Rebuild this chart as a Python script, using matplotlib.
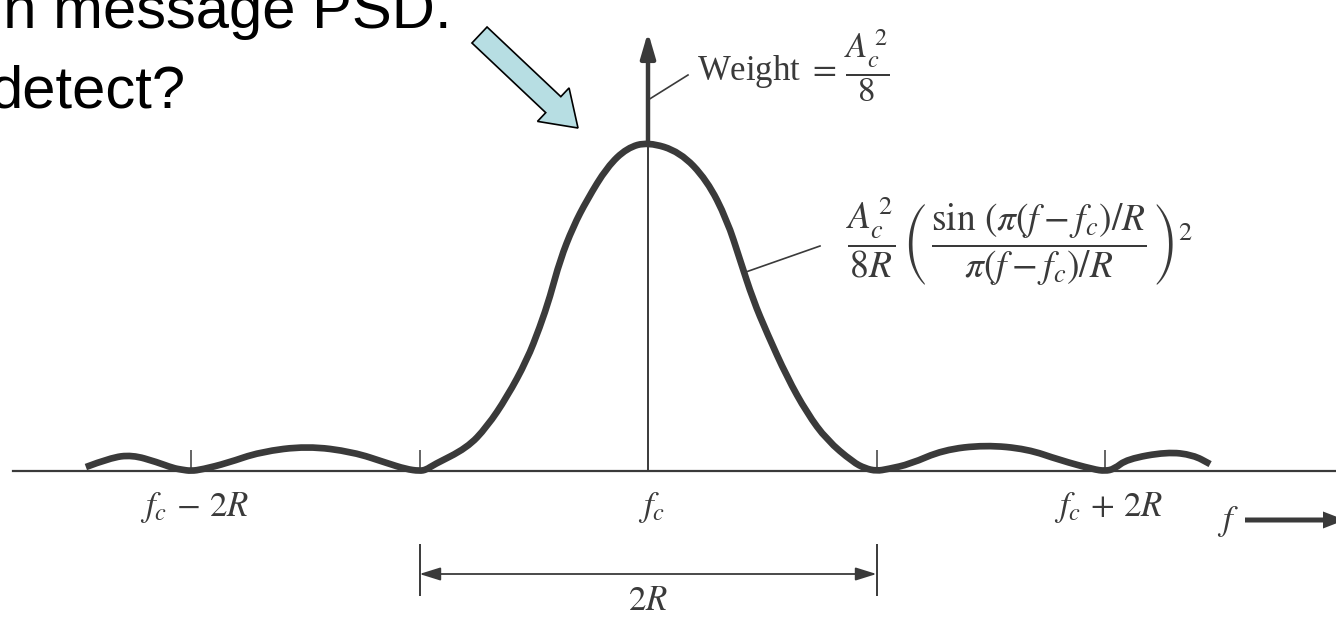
import numpy as np
import matplotlib.pyplot as plt
from matplotlib.path import Path
from matplotlib.patches import PathPatch, FancyArrow
from matplotlib.transforms import IdentityTransform

plt.rcParams["mathtext.fontset"] = "stix"
plt.rcParams["font.family"] = ["Liberation Serif", "DejaVu Serif"]

W, H, DPI = 1336, 617, 100

# PSD of the carrier-modulated NRZ signal: offset from f_c (in units of R)
# and level relative to the main-lobe peak
freq_offset = [
    -2.460, -2.354, -2.258, -2.149, -2.079, -2.04, -2.0, -1.95,
    -1.842, -1.698, -1.492, -1.291, -1.142, -1.06, -1.0, -0.97,
    -0.941, -0.792, -0.705, -0.617, -0.530, -0.473, -0.429, -0.385,
    -0.328, -0.267, -0.179, -0.092, 0.0,
    0.140, 0.258, 0.346, 0.403, 0.460, 0.521, 0.608, 0.696, 0.783,
    0.897, 0.95, 1.0, 1.05,
    1.147, 1.291, 1.475, 1.659, 1.803, 1.95, 2.0, 2.04,
    2.096, 2.271, 2.385, 2.460,
]
psd_level = [
    0.012, 0.040, 0.049, 0.027, 0.009, 0.004, 0.0, 0.005,
    0.024, 0.058, 0.076, 0.058, 0.024, 0.006, 0.0, 0.004,
    0.018, 0.070, 0.134, 0.225, 0.337, 0.438, 0.529, 0.641,
    0.742, 0.824, 0.924, 0.982, 1.0,
    0.970, 0.884, 0.763, 0.641, 0.520, 0.419, 0.286, 0.176, 0.094,
    0.027, 0.008, 0.0, 0.006,
    0.021, 0.064, 0.079, 0.067, 0.033, 0.005, 0.0, 0.006,
    0.036, 0.058, 0.049, 0.021,
]

null_ticks = [-2, -1, 1, 2]
label_offsets = [-2, 0, 2]
label_texts = [r"$f_c\,-\,2R$", r"$f_c$", r"$f_c\,+\,2R$"]
main_lobe = [-1, 1]
impulse_top = 1.334

# page layout: the carrier sits at x=648 px, baseline at y=471 px
X0, PX_PER_R = 648, 228.5
Y0, PX_PER_LEVEL = 471, 329
INK = "#3a3a3a"
FS = 25


def px(x, y):
    """Pixel position (origin top-left) to data coordinates."""
    return (x - X0) / PX_PER_R, (Y0 - y) / PX_PER_LEVEL


def smooth_path(xs, ys):
    pts = np.column_stack([xs, ys])
    verts, codes = [pts[0]], [Path.MOVETO]
    for i in range(1, len(pts) - 1):
        verts += [pts[i], (pts[i] + pts[i + 1]) / 2]
        codes += [Path.CURVE3, Path.CURVE3]
    verts.append(pts[-1])
    codes.append(Path.LINETO)
    return Path(verts, codes)


fig = plt.figure(figsize=(W / DPI, H / DPI), dpi=DPI)
ax = fig.add_axes([0, 0, 1, 1])
ax.set_xlim(-X0 / PX_PER_R, (W - X0) / PX_PER_R)
ax.set_ylim(-(H - Y0) / PX_PER_LEVEL, Y0 / PX_PER_LEVEL)
ax.axis("off")

# frequency axis and the vertical axis through f_c
ax.axhline(0, xmin=13 / W, xmax=1, color=INK, lw=1.6)
ax.plot([0, 0], [0, 1], color=INK, lw=1.4)
ax.vlines(null_ticks, 0, 0.064, color=INK, lw=1.1)

# spectrum
ax.add_patch(PathPatch(smooth_path(freq_offset, psd_level), fill=False,
                       ec=INK, lw=4.8, capstyle="butt", joinstyle="round"))

# carrier impulse
ax.annotate("", xy=(0, impulse_top), xytext=(0, 1.0),
            arrowprops=dict(arrowstyle="-|>,head_length=0.75,head_width=0.22",
                            color=INK, lw=3.2, shrinkA=0, shrinkB=0,
                            mutation_scale=20))

# null labels, nudged right a little as on the printed figure
for off, txt in zip(label_offsets, label_texts):
    ax.annotate(txt, (off, px(0, 516)[1]), xytext=(4, 0),
                textcoords="offset pixels", ha="center", va="baseline",
                fontsize=FS, color=INK)

# main-lobe width bracket
lo, hi = main_lobe
ax.vlines(main_lobe, px(0, 596)[1], px(0, 544)[1], color=INK, lw=1.4)
ax.annotate("", xy=(lo, px(0, 574)[1]), xytext=(hi, px(0, 574)[1]),
            arrowprops=dict(arrowstyle="<|-|>,head_length=0.8,head_width=0.25",
                            color=INK, lw=1.3, shrinkA=0, shrinkB=0,
                            mutation_scale=16))
ax.text((lo + hi) / 2, px(0, 610)[1], r"$2R$", ha="center", va="baseline",
        fontsize=FS, color=INK)

# impulse weight and PSD formula with leader lines
ax.plot(*zip(px(648, 100), px(688, 75)), color=INK, lw=1.2)
ax.text(*px(697, 81), r"Weight $=\,\dfrac{A_c^{\,2}}{8}$", ha="left",
        va="baseline", fontsize=FS, color=INK)
ax.plot(*zip(px(743, 273), px(820, 246)), color=INK, lw=1.2)
ax.text(*px(846, 254),
        r"$\dfrac{A_c^{\,2}}{8R}\,\left(\,\dfrac{\sin\,(\pi(f-f_c)/R}{\pi(f-f_c)/R}\,\right)^2$",
        ha="left", va="baseline", fontsize=27, color=INK)

# frequency direction marker
ax.text(*px(1228, 530), r"$f$", ha="center", va="baseline", fontsize=FS, color=INK)
fig.add_artist(FancyArrow(1245, H - 520, 100, 0, width=5, head_width=17,
                          head_length=22, length_includes_head=True,
                          fc=INK, ec="none", transform=IdentityTransform()))

# pointer to the spectral peak
fig.add_artist(FancyArrow(479.5, H - 35, 98.5, -93, width=22, head_width=46,
                          head_length=34, length_includes_head=True,
                          fc="#b7dee3", ec="black", lw=1.2,
                          transform=IdentityTransform()))

# slide text
fig.text(452 / W, 1 - 28 / H, "in message PSD.", ha="right", va="baseline",
         fontsize=43, family="Liberation Sans", color="black")
fig.text(-10 / W, 1 - 108 / H, "detect?", ha="left", va="baseline",
         fontsize=43, family="Liberation Sans", color="black")

fig.savefig("out.png", dpi=DPI, facecolor="white")
